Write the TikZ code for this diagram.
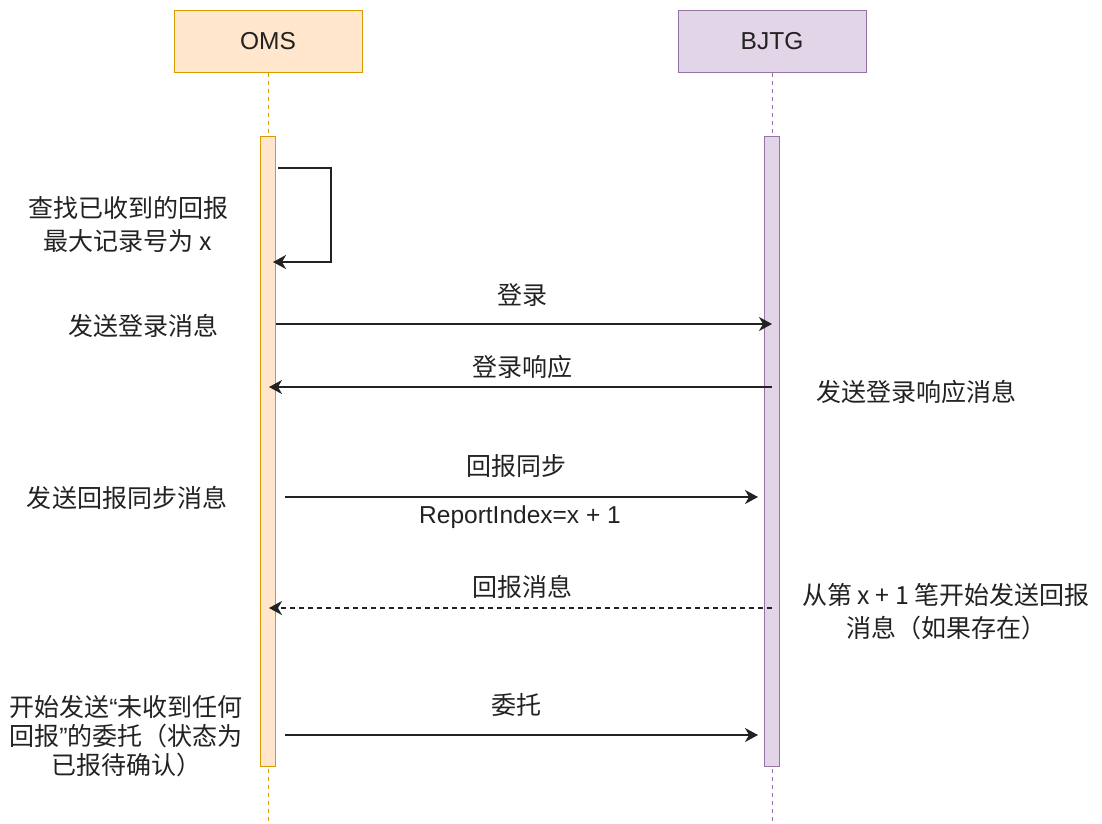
\documentclass[tikz,border=0pt]{standalone}
\usepackage{fontspec}
\setmainfont{Liberation Sans}
\newfontfamily\cjk{Noto Sans CJK SC}
\usetikzlibrary{arrows.meta}
\definecolor{omsfill}{HTML}{FFE6CC}
\definecolor{omsline}{HTML}{D79B00}
\definecolor{bjfill}{HTML}{E1D5E7}
\definecolor{bjline}{HTML}{9673A6}
\definecolor{ink}{HTML}{222222}
\newcommand{\myLquote}{{\rmfamily “}}
\newcommand{\myRquote}{{\rmfamily ”}}
\begin{document}
\begin{tikzpicture}[x=1pt,y=-1pt,
  omshead/.style={draw=omsline, fill=omsfill, line width=1pt, minimum width=188pt, minimum height=62pt, inner sep=0pt, text=ink, font=\fontsize{24.5}{29}\selectfont},
  bjhead/.style={draw=bjline, fill=bjfill, line width=1pt, minimum width=188pt, minimum height=62pt, inner sep=0pt, text=ink, font=\fontsize{24.5}{29}\selectfont},
  omsbar/.style={draw=omsline, fill=omsfill, line width=1pt, minimum width=15pt, minimum height=630pt, inner sep=0pt, anchor=north},
  bjbar/.style={draw=bjline, fill=bjfill, line width=1pt, minimum width=15pt, minimum height=630pt, inner sep=0pt, anchor=north},
  lifeline/.style={line width=0.9pt, dash pattern=on 4pt off 4pt},
  msg/.style={draw=ink, line width=1.4pt, -{Stealth[length=13pt,width=14pt,inset=4pt]}},
  dmsg/.style={msg, dash pattern=on 5pt off 4pt},
  lbl/.style={font=\cjk\fontsize{25}{33}\selectfont, text=ink, align=center, inner sep=0pt},
  lbltight/.style={font=\cjk\fontsize{25}{29}\selectfont, text=ink, align=center, inner sep=0pt},
  lat/.style={font=\fontsize{24.5}{29}\selectfont, text=ink, inner sep=0pt}
]
\useasboundingbox (0,0) rectangle (1102,823);
\fill[white] (0,0) rectangle (1102,823);

% heads
\node[omshead] (oms) at (268,41) {OMS};
\node[bjhead] (bjtg) at (772,41) {BJTG};

% lifelines
\coordinate (omsend) at (268,823);
\coordinate (bjend) at (772,823);
\draw[lifeline, draw=omsline] (oms.south) -- (omsend);
\draw[lifeline, draw=bjline] (bjtg.south) -- (bjend);

% activation bars
\node[omsbar] (omsbar) at (268,136) {};
\node[bjbar] (bjbar) at (772,136) {};

% self message
\coordinate (s1) at (278,168);
\coordinate (s2) at (273,262);
\draw[msg] (s1) -- (331,168) |- (s2);
\node[lbl] (l1) at (128,224) {查找已收到的回报\\最大记录号为 x};

% login
\coordinate (a1s) at (276,324);
\coordinate (a1e) at (772,324);
\draw[msg] (a1s) -- (a1e);
\node[lbl] (t1) at (522,295) {登录};
\node[lbl] (l2) at (143,326) {发送登录消息};

% login response
\coordinate (a2s) at (772,387);
\coordinate (a2e) at (269,387);
\draw[msg] (a2s) -- (a2e);
\node[lbl] (t2) at (522,367) {登录响应};
\node[lbl] (r1) at (916,392) {发送登录响应消息};

% report sync
\coordinate (a3s) at (285,497);
\coordinate (a3e) at (758,497);
\draw[msg] (a3s) -- (a3e);
\node[lbl] (t3) at (516,466) {回报同步};
\node[lat] (t3b) at (520,517) {ReportIndex=x + 1};
\node[lbl] (l3) at (127,498) {发送回报同步消息};

% report messages
\coordinate (a4s) at (772,608);
\coordinate (a4e) at (269,608);
\draw[dmsg] (a4s) -- (a4e);
\node[lbl] (t4) at (522,587) {回报消息};
\node[lbl] (r2) at (946,612) {从第 x + 1 笔开始发送回报\\消息（如果存在）};

% order
\coordinate (a5s) at (285,735);
\coordinate (a5e) at (758,735);
\draw[msg] (a5s) -- (a5e);
\node[lbl] (t5) at (516,705) {委托};
\node[lbltight] (l5) at (126,736) {开始发送\myLquote 未收到任何\\回报\myRquote 的委托（状态为\\已报待确认）};
\end{tikzpicture}
\end{document}
